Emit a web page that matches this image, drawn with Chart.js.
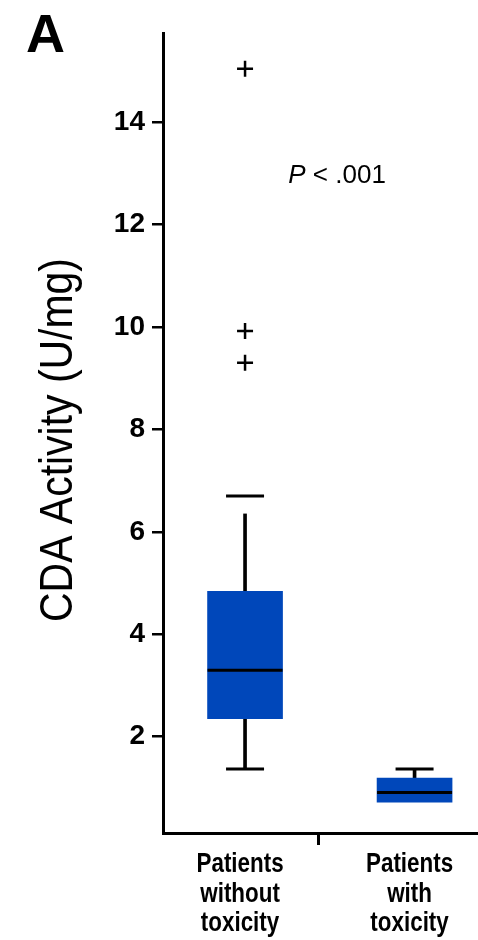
<!DOCTYPE html>
<html>
<head>
<meta charset="utf-8">
<script src="https://cdn.jsdelivr.net/npm/chart.js@4"></script>
<style>
  html, body { margin: 0; padding: 0; background: #fff; overflow: hidden; }
  #wrap { width: 500px; height: 940px; }
</style>
</head>
<body>
<div id="wrap"><canvas id="cda" width="500" height="940"></canvas></div>
<script>
// Two patient groups, box plot of CDA activity (U/mg)
const categories = [['Patients', 'without', 'toxicity'], ['Patients', 'with', 'toxicity']];
const categoryPos = [1, 2];
const boundaryPos = 1.431;          // tick mark between the two groups

const q1 = [2.35, 0.72];
const medians = [3.30, 0.91];
const q3 = [4.84, 1.19];
const whiskerLow = [1.37, null];     // second group has no lower whisker
const whiskerHigh = [6.35, 1.37];    // end of the upper stem
const capHigh = [6.70, 1.37];
const capLow = [1.37, null];
const outliers = [[15.04, 9.92, 9.30], []];

const yTicks = [2, 4, 6, 8, 10, 12, 14];
const yRange = [0.12, 15.74];
const yTitle = 'CDA Activity (U/mg)';

const BLUE = '#0047BA';
const SANS = "'Liberation Sans', Arial, sans-serif";

const boxData = categoryPos.map((x, i) => ({ x, y: [q1[i], q3[i]] }));
const stemData = [];
categoryPos.forEach((x, i) => {
  if (whiskerLow[i] !== null) stemData.push({ x, y: [whiskerLow[i], q1[i]] });
  stemData.push({ x, y: [q3[i], whiskerHigh[i]] });
});
const medianData = categoryPos.map((x, i) => ({ x, y: medians[i] }));
const capData = [];
categoryPos.forEach((x, i) => {
  capData.push({ x, y: capHigh[i] });
  if (capLow[i] !== null) capData.push({ x, y: capLow[i] });
});
const outlierData = [];
categoryPos.forEach((x, i) => outliers[i].forEach(v => outlierData.push({ x, y: v })));

// Condensed-looking text: ordinary glyphs squeezed horizontally
function narrowText(ctx, text, x, y, squeeze, rotation) {
  ctx.save();
  ctx.translate(x, y);
  if (rotation) ctx.rotate(rotation);
  ctx.scale(squeeze, 1);
  ctx.fillText(text, 0, 0);
  ctx.restore();
}

// Panel letter, axis title, group labels and the significance note
const annotations = {
  id: 'annotations',
  afterDraw(chart) {
    const { ctx, scales, chartArea } = chart;
    ctx.save();
    ctx.fillStyle = '#000';
    ctx.textBaseline = 'alphabetic';

    ctx.textAlign = 'left';
    ctx.font = `bold 54px ${SANS}`;
    ctx.fillText('A', 26, 52);

    // y-axis title, reading upward
    ctx.textAlign = 'center';
    ctx.font = `46px ${SANS}`;
    narrowText(ctx, yTitle, 72, (chartArea.top + chartArea.bottom) / 2 + 7, 0.89, -Math.PI / 2);

    // group labels under the x axis
    ctx.font = `bold 28px ${SANS}`;
    const base = scales.x.top + 39;
    categories.forEach((lines, i) => {
      const cx = scales.x.getPixelForValue(categoryPos[i]) - 5;
      lines.forEach((line, k) => narrowText(ctx, line, cx, base + k * 29.5, 0.8, 0));
    });

    // significance
    const px = scales.x.getPixelForValue(1.255);
    const py = scales.y.getPixelForValue(12.82);
    ctx.textAlign = 'left';
    ctx.font = `italic 26px ${SANS}`;
    ctx.fillText('P', px, py);
    const w = ctx.measureText('P').width;
    ctx.font = `26px ${SANS}`;
    ctx.fillText(' < .001', px + w, py);
    ctx.restore();
  }
};

new Chart(document.getElementById('cda'), {
  type: 'bar',
  data: {
    datasets: [
      {
        type: 'scatter', data: outlierData, order: 0,
        pointStyle: 'cross', pointRadius: 8, borderWidth: 2.5,
        borderColor: '#000', backgroundColor: '#000'
      },
      {
        type: 'scatter', data: medianData, order: 1,
        pointStyle: 'line', pointRadius: 37.5, borderWidth: 3,
        borderColor: '#000', backgroundColor: '#000'
      },
      {
        type: 'scatter', data: capData, order: 2,
        pointStyle: 'line', pointRadius: 19, borderWidth: 3,
        borderColor: '#000', backgroundColor: '#000'
      },
      {
        type: 'bar', data: boxData, order: 3, grouped: false,
        barThickness: 75, backgroundColor: BLUE, borderWidth: 0
      },
      {
        type: 'bar', data: stemData, order: 4, grouped: false,
        barThickness: 3, backgroundColor: '#000', borderWidth: 0
      }
    ]
  },
  options: {
    responsive: false,
    animation: false,
    events: [],
    layout: { autoPadding: false, padding: { top: 33, left: 0, right: 0, bottom: 0 } },
    plugins: { legend: { display: false }, tooltip: { enabled: false } },
    scales: {
      x: {
        type: 'linear',
        min: 0.516,
        max: 2.504,
        offset: false,
        afterBuildTicks(scale) {
          scale.ticks = [
            { value: categoryPos[0] },
            { value: boundaryPos },
            { value: categoryPos[1] }
          ];
        },
        afterFit(scale) {
          scale.height = 107;
          scale.paddingLeft = 0;
          scale.paddingRight = 0;
        },
        border: { display: true, color: '#000', width: 3 },
        grid: {
          offset: false,
          drawOnChartArea: false,
          drawTicks: true,
          tickLength: 12,
          lineWidth: 3,
          color: ctx => (ctx.tick && ctx.tick.value === boundaryPos) ? '#000' : 'rgba(0,0,0,0)'
        },
        ticks: { display: false }
      },
      y: {
        type: 'linear',
        min: yRange[0],
        max: yRange[1],
        afterBuildTicks(scale) {
          scale.ticks = yTicks.map(v => ({ value: v }));
        },
        afterFit(scale) {
          scale.width = 163;
          scale.paddingTop = 0;
          scale.paddingBottom = 0;
        },
        border: { display: true, color: '#000', width: 3 },
        grid: {
          drawOnChartArea: false,
          drawTicks: true,
          tickLength: 11,
          lineWidth: 2.5,
          color: '#000'
        },
        ticks: {
          padding: 7,
          color: '#000',
          font: { family: SANS, size: 28, weight: 'bold' },
          callback: v => String(v)
        },
        title: { display: false }
      }
    }
  },
  plugins: [annotations]
});
</script>
</body>
</html>
